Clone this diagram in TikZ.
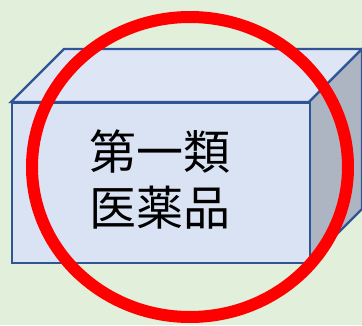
\documentclass[tikz,border=0pt]{standalone}
\usepackage{fontspec}
\newfontfamily\jpfont{Noto Sans CJK JP}
\definecolor{bggreen}{HTML}{E2EFDA}
\definecolor{frontc}{HTML}{DAE3F3}
\definecolor{topc}{HTML}{DEE5F4}
\definecolor{sidec}{HTML}{ADB5C3}
\definecolor{edgec}{HTML}{2F5597}
\tikzset{
  face/.style={draw=edgec, line width=2.4pt, line join=miter},
  ring/.style={draw=red, line width=12pt},
  label/.style={font=\jpfont\fontsize{47}{56}\selectfont, text=black, align=center, inner sep=0pt}
}
\begin{document}
\begin{tikzpicture}[x=1pt,y=-1pt]
\fill[bggreen] (0,0) rectangle (362,325);
\useasboundingbox (0,0) rectangle (362,325);
\begin{scope}
\clip (0,0) rectangle (362,325);
% top face
\path[face, fill=topc] (11,102) -- (64,49) -- (362,49) -- (309,102) -- cycle;
% right face
\path[face, fill=sidec] (309,102) -- (362,49) -- (362,209) -- (309,262) -- cycle;
% front face
\node[face, fill=frontc, minimum width=298pt, minimum height=160pt, inner sep=0pt, anchor=north west] (front) at (11,102) {};
\node[label] (txt) at (160,180) {第一類\\医薬品};
% red circle
\draw[ring] (190,167) ellipse [x radius=158, y radius=150];
\end{scope}
\end{tikzpicture}
\end{document}
